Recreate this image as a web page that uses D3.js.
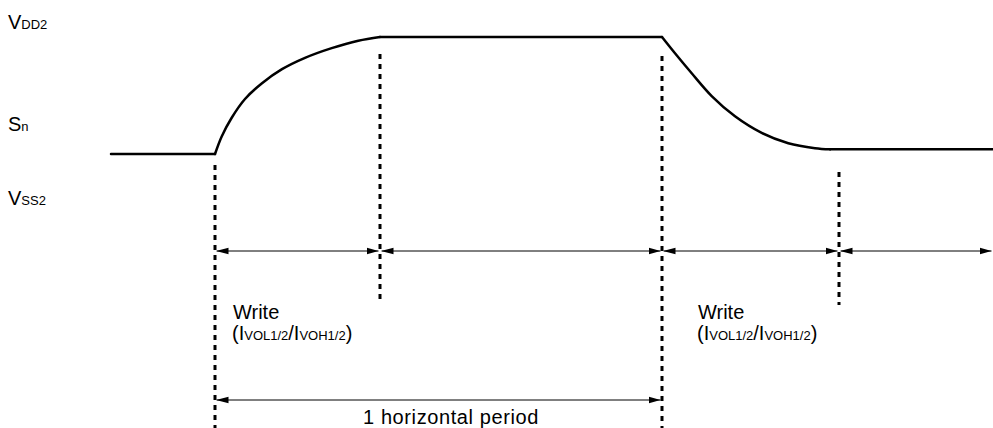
<!DOCTYPE html>
<html>
<head>
<meta charset="utf-8">
<script src="https://cdn.jsdelivr.net/npm/d3@7"></script>
<style>
  body { margin: 0; background: #fff; }
  text { font-family: "Liberation Sans", Arial, sans-serif; fill: #000; }
</style>
</head>
<body>
<div id="chart"></div>
<script>
// waveform of Sn, time in px-units, level normalised (0 = start level, 1 = VDD2)
var lowT = [111, 215];
var lowV = [0, 0];
var riseT = [215, 221.7, 231.7, 245, 262, 282, 305, 331.7, 358.3, 380];
var riseV = [0, 0.15, 0.31, 0.47, 0.605, 0.725, 0.822, 0.905, 0.968, 1];
var highT = [380, 662];
var highV = [1, 1];
var fallT = [662, 675, 691.7, 711.7, 735, 761.7, 788.3, 815, 830];
var fallV = [1, 0.861, 0.690, 0.495, 0.322, 0.180, 0.092, 0.050, 0.040];
var endT = [830, 993];
var endV = [0.040, 0.040];

// timing marks and periods
var markT = [215, 380, 662, 839];
var periods = [[215, 380], [380, 662], [662, 839], [839, 993]];
var hPeriod = [215, 662];

var levelLabels = [
  { main: "V", sub: "DD2", v: 1.07 },
  { main: "S", sub: "n", v: 0.197 },
  { main: "V", sub: "SS2", v: -0.436 }
];
var writeT = [233, 698];

var width = 993, height = 428;

var x = d3.scaleLinear().domain([0, 993]).range([0, 993]);
var y = d3.scaleLinear().domain([0, 1]).range([154, 37]);

var svg = d3.select("#chart").append("svg")
  .attr("width", width)
  .attr("height", height);

var defs = svg.append("defs");
defs.append("marker")
  .attr("id", "arr")
  .attr("markerUnits", "userSpaceOnUse")
  .attr("viewBox", "0 -4 12 8")
  .attr("refX", 12).attr("refY", 0)
  .attr("markerWidth", 12).attr("markerHeight", 8)
  .attr("orient", "auto-start-reverse")
  .append("path")
  .attr("d", "M0,-3.3L12,0L0,3.3Z")
  .attr("fill", "#000");

function zip(ts, vs) { return ts.map(function (t, i) { return [t, vs[i]]; }); }

var flat = d3.line()
  .x(function (d) { return x(d[0]); })
  .y(function (d) { return y(d[1]); });

var smooth = d3.line()
  .x(function (d) { return x(d[0]); })
  .y(function (d) { return y(d[1]); })
  .curve(d3.curveCatmullRom.alpha(0.5));

var segs = [
  flat(zip(lowT, lowV)),
  smooth(zip(riseT, riseV)),
  flat(zip(highT, highV)),
  smooth(zip(fallT, fallV)),
  flat(zip(endT, endV))
];

svg.selectAll(".wave")
  .data(segs)
  .enter()
  .append("path")
  .attr("class", "wave")
  .attr("d", function (d) { return d; })
  .attr("fill", "none")
  .attr("stroke", "#000")
  .attr("stroke-width", 2.5)
  .attr("stroke-linecap", "round")
  .attr("stroke-linejoin", "round");

// dashed timing lines
var dashExt = [[165, 428], [54, 302], [56, 428], [172, 305]];
svg.selectAll(".mark")
  .data(markT)
  .enter()
  .append("line")
  .attr("class", "mark")
  .attr("x1", function (d) { return x(d); })
  .attr("x2", function (d) { return x(d); })
  .attr("y1", function (d, i) { return dashExt[i][0]; })
  .attr("y2", function (d, i) { return dashExt[i][1]; })
  .attr("stroke", "#000")
  .attr("stroke-width", 3)
  .attr("stroke-dasharray", "5,5");

// period arrows
svg.selectAll(".per")
  .data(periods)
  .enter()
  .append("line")
  .attr("class", "per")
  .attr("x1", function (d) { return x(d[0]) + 1.5; })
  .attr("x2", function (d) { return x(d[1]) - 1.5; })
  .attr("y1", 251).attr("y2", 251)
  .attr("stroke", "#000")
  .attr("stroke-width", 1)
  .attr("marker-start", "url(#arr)")
  .attr("marker-end", "url(#arr)");

svg.append("line")
  .attr("x1", x(hPeriod[0]) + 1.5)
  .attr("x2", x(hPeriod[1]) - 1.5)
  .attr("y1", 400).attr("y2", 400)
  .attr("stroke", "#000")
  .attr("stroke-width", 1)
  .attr("marker-start", "url(#arr)")
  .attr("marker-end", "url(#arr)");

svg.append("text")
  .attr("x", 363)
  .attr("y", 424)
  .attr("font-size", 20)
  .attr("letter-spacing", 0.6)
  .text("1 horizontal period");

// level labels
var lab = svg.selectAll(".lvl")
  .data(levelLabels)
  .enter()
  .append("text")
  .attr("class", "lvl")
  .attr("x", 8)
  .attr("y", function (d) { return y(d.v); })
  .attr("font-size", 20);
lab.append("tspan").text(function (d) { return d.main; });
lab.append("tspan").attr("font-size", 13).text(function (d) { return d.sub; });

// write labels
writeT.forEach(function (t) {
  svg.append("text")
    .attr("x", x(t)).attr("y", 319)
    .attr("font-size", 20)
    .text("Write");
  var p = svg.append("text")
    .attr("x", x(t) - 1).attr("y", 340)
    .attr("font-size", 20);
  p.append("tspan").text("(I");
  p.append("tspan").attr("font-size", 13).text("VOL1/2");
  p.append("tspan").text("/I");
  p.append("tspan").attr("font-size", 13).text("VOH1/2");
  p.append("tspan").text(")");
});
</script>
</body>
</html>
